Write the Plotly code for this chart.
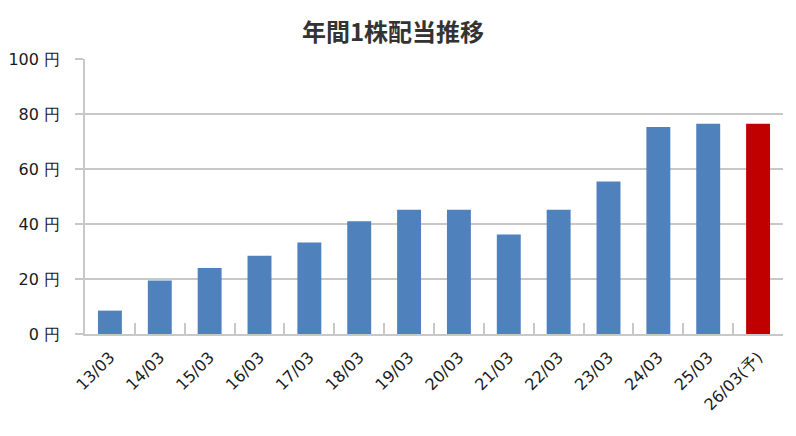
import plotly.graph_objects as go

# 年度 (決算期) と 1株配当 (円)
periods = ["13/03", "14/03", "15/03", "16/03", "17/03", "18/03", "19/03",
           "20/03", "21/03", "22/03", "23/03", "24/03", "25/03", "26/03(予)"]
dividends = [8.5, 19.5, 24, 28.5, 33.3, 41, 45.2, 45.2, 36.2, 45.2, 55.5, 75.3, 76.5, 76.5]
forecast = [False] * 13 + [True]

yticks = [0, 20, 40, 60, 80, 100]
ytick_labels = [f"{v} 円" for v in yticks]

BLUE = "#4F81BD"
RED = "#C00000"
GRID = "#C8C8C8"

bar_colors = [RED if f else BLUE for f in forecast]

fig = go.Figure()
fig.add_trace(go.Bar(x=periods, y=dividends,
                     marker=dict(color=bar_colors, line=dict(width=0)),
                     showlegend=False))

# page body has an 8px margin, so the figure is a bit smaller than the window
fig.update_layout(
    width=788, height=428,
    paper_bgcolor="white", plot_bgcolor="white",
    margin=dict(l=77, r=13, t=51, b=102),
    bargap=0.52,
    font=dict(family="DejaVu Sans", size=16, color="#1a1a1a"),
    title=dict(text="<b>年間1株配当推移</b>", x=0.4886, xanchor="center",
               y=0.9416, yanchor="middle",
               font=dict(family="Noto Sans CJK JP", size=24, color="#333333")),
)

fig.update_xaxes(
    tickangle=-45, ticklabelstandoff=6, automargin=False,
    showline=True, linecolor=GRID, linewidth=1.5,
    ticks="inside", tickson="boundaries", ticklen=11, tickcolor=GRID, tickwidth=1.5,
    showgrid=False,
)

fig.update_yaxes(
    range=[0, 100], tickvals=yticks, ticktext=ytick_labels,
    ticklabelstandoff=12, automargin=False,
    showline=True, linecolor=GRID, linewidth=1.5,
    showgrid=True, gridcolor=GRID, gridwidth=1.5,
    ticks="outside", ticklen=8, tickcolor=GRID, tickwidth=1.5,
    zeroline=False,
)

fig.write_html("out.html")
